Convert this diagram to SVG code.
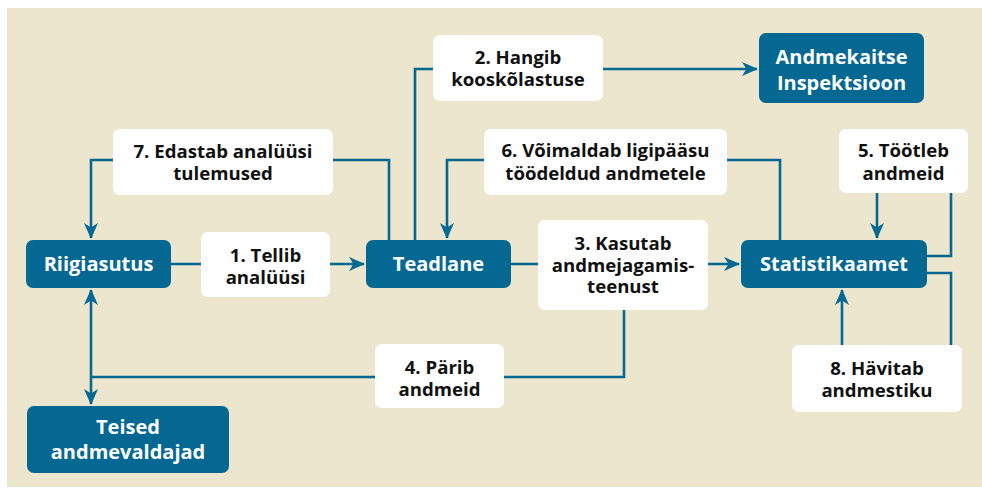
<svg xmlns="http://www.w3.org/2000/svg" width="982" height="488" viewBox="0 0 982 488">
<style>
.bg{fill:#ede6cf}
.node rect{fill:#046892}
.node text{fill:#ffffff;font-family:"Open Sans","Noto Sans",sans-serif;font-weight:700;font-size:20px;text-anchor:middle}
.lab rect{fill:#ffffff}
.lab text{fill:#111111;font-family:"Open Sans","Noto Sans",sans-serif;font-weight:700;font-size:18.6px;text-anchor:middle}
.conn path{fill:none;stroke:#046892;stroke-width:2.6}
</style>
<defs>
<marker id="ah" markerUnits="userSpaceOnUse" markerWidth="16" markerHeight="14" refX="15" refY="7" orient="auto-start-reverse" viewBox="0 0 16 14">
<path d="M0,0 L16,7 L0,14 L4.5,7 z" fill="#046892"/>
</marker>
</defs>
<rect class="bg" x="7" y="8" width="975" height="479"/>
<g id="connectors" class="conn">
<path d="M171,264 H364" marker-end="url(#ah)"/>
<path d="M511,264 H739" marker-end="url(#ah)"/>
<path d="M389,240 V160 H91 V238" marker-end="url(#ah)"/>
<path d="M415,240 V69 H757" marker-end="url(#ah)"/>
<path d="M780,240 V160 H447 V238" marker-end="url(#ah)"/>
<path d="M877,193 V238" marker-end="url(#ah)"/>
<path d="M927,256 H951 V193"/>
<path d="M927,273 H951 V345"/>
<path d="M842,345 V290" marker-end="url(#ah)"/>
<path d="M624,310 V377 H91"/>
<path d="M91,290 V404" marker-start="url(#ah)" marker-end="url(#ah)"/>
</g>
<g id="lbl-1" class="lab"><rect x="201" y="232" width="129" height="65" rx="7"/><text x="265.5" y="262">1. Tellib<tspan x="265.5" dy="22">analüüsi</tspan></text></g>
<g id="lbl-2" class="lab"><rect x="433" y="35" width="170" height="66" rx="7"/><text x="518" y="64">2. Hangib<tspan x="518" dy="22">kooskõlastuse</tspan></text></g>
<g id="lbl-3" class="lab"><rect x="538" y="220" width="170" height="90" rx="7"/><text x="623" y="250">3. Kasutab<tspan x="623" dy="21.5">andmejagamis-</tspan><tspan x="623" dy="21.5">teenust</tspan></text></g>
<g id="lbl-4" class="lab"><rect x="375" y="344" width="129" height="64" rx="7"/><text x="439.5" y="374">4. Pärib<tspan x="439.5" dy="22">andmeid</tspan></text></g>
<g id="lbl-5" class="lab"><rect x="839" y="129" width="129" height="64" rx="7"/><text x="903.5" y="157">5. Töötleb<tspan x="903.5" dy="23">andmeid</tspan></text></g>
<g id="lbl-6" class="lab"><rect x="484" y="129" width="243" height="66" rx="7"/><text x="605.5" y="157">6. Võimaldab ligipääsu<tspan x="605.5" dy="23">töödeldud andmetele</tspan></text></g>
<g id="lbl-7" class="lab"><rect x="113" y="129" width="220" height="66" rx="7"/><text x="223" y="158">7. Edastab analüüsi<tspan x="223" dy="22">tulemused</tspan></text></g>
<g id="lbl-8" class="lab"><rect x="792" y="345" width="170" height="67" rx="7"/><text x="877" y="375">8. Hävitab<tspan x="877" dy="22">andmestiku</tspan></text></g>
<g id="riigiasutus" class="node"><rect x="26" y="240" width="145" height="48" rx="7"/><text x="98.5" y="271">Riigiasutus</text></g>
<g id="teadlane" class="node"><rect x="366" y="240" width="145" height="48" rx="7"/><text x="438.5" y="271">Teadlane</text></g>
<g id="statistikaamet" class="node"><rect x="741" y="240" width="186" height="48" rx="7"/><text x="834" y="271">Statistikaamet</text></g>
<g id="andmekaitse" class="node"><rect x="759" y="33" width="165" height="70" rx="7"/><text x="841.5" y="64">Andmekaitse<tspan x="841.5" dy="26">Inspektsioon</tspan></text></g>
<g id="teised" class="node"><rect x="27" y="406" width="202" height="67" rx="7"/><text x="128" y="434">Teised<tspan x="128" dy="25">andmevaldajad</tspan></text></g>
</svg>
